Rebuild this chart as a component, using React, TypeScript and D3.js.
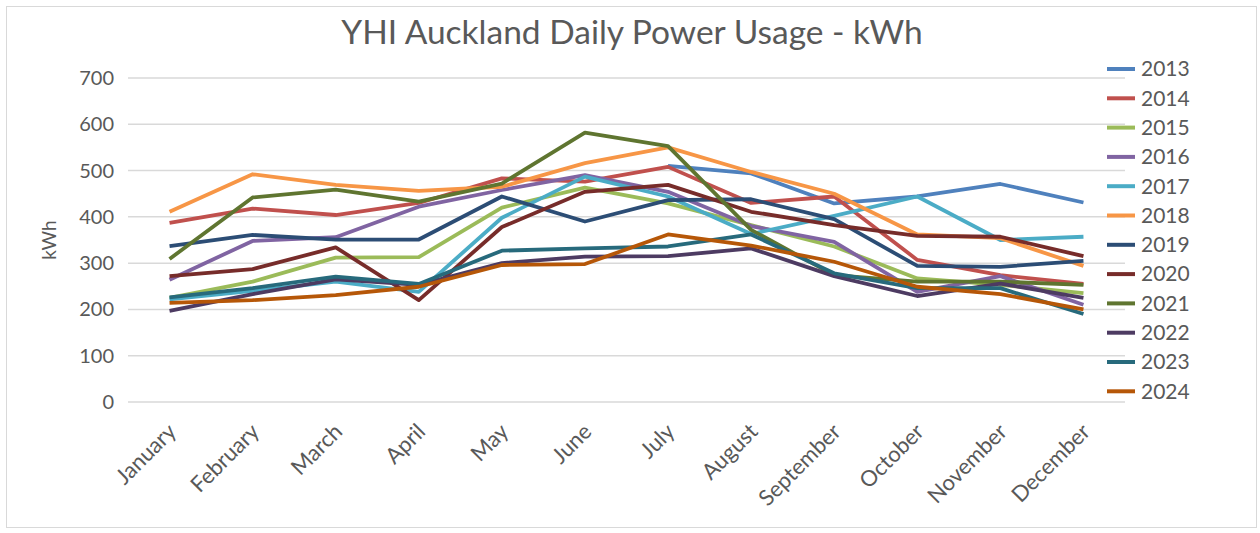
import React from 'react';
import * as d3 from 'd3';

const MONTHS = ['January', 'February', 'March', 'April', 'May', 'June', 'July', 'August', 'September', 'October', 'November', 'December'];
const YEARS = ['2013', '2014', '2015', '2016', '2017', '2018', '2019', '2020', '2021', '2022', '2023', '2024'];
const COLORS = ['#4F81BD', '#C0504D', '#9BBB59', '#8064A2', '#4BACC6', '#F79646', '#2C4D75', '#772C2A', '#5F7530', '#4D3B62', '#276A7C', '#B65708'];
const Y_TICKS = [0, 100, 200, 300, 400, 500, 600, 700];

// daily kWh per month, one array per year (null = no data)
const Y2013 = [null, null, null, null, null, null, 510, 494, 429, 444, 471, 431];
const Y2014 = [387, 418, 404, 430, 483, 476, 508, 430, 444, 307, 274, 255];
const Y2015 = [225, 260, 312, 313, 420, 463, 429, 382, 336, 267, 253, 235];
const Y2016 = [264, 348, 356, 422, 458, 490, 454, 380, 346, 238, 272, 210];
const Y2017 = [222, 240, 260, 238, 398, 487, 444, 363, 402, 444, 350, 357];
const Y2018 = [411, 492, 469, 456, 465, 516, 550, 497, 450, 362, 354, 294];
const Y2019 = [337, 361, 351, 351, 444, 390, 436, 438, 395, 294, 292, 305];
const Y2020 = [272, 287, 334, 220, 378, 454, 469, 411, 382, 359, 357, 315];
const Y2021 = [309, 442, 459, 433, 472, 582, 553, 372, 274, 260, 260, 253];
const Y2022 = [197, 233, 265, 253, 300, 314, 315, 332, 272, 229, 256, 225];
const Y2023 = [226, 246, 271, 255, 327, 332, 336, 362, 278, 246, 246, 190];
const Y2024 = [214, 220, 231, 249, 296, 298, 362, 338, 303, 249, 233, 200];
const SERIES = [Y2013, Y2014, Y2015, Y2016, Y2017, Y2018, Y2019, Y2020, Y2021, Y2022, Y2023, Y2024];

const W = 1260;
const H = 533;
const PLOT = { left: 128, right: 1125, top: 78, bottom: 402 };
const FONT = 'Lato, "Open Sans", sans-serif';
const TXT = '#595959';

export default function App() {
  const x = d3.scalePoint<string>().domain(MONTHS).range([PLOT.left, PLOT.right]).padding(0.5);
  const y = d3.scaleLinear().domain([0, 700]).range([PLOT.bottom, PLOT.top]);

  const line = d3.line<number | null>()
    .defined(d => d != null)
    .x((_, i) => x(MONTHS[i]) as number)
    .y(d => y(d as number));

  return (
    <svg width={W} height={H} style={{ position: 'absolute', left: 0, top: 0, fontFamily: FONT }}>
      <rect x={0} y={0} width={W} height={H} fill="#ffffff" />
      <rect x={6.5} y={6.5} width={W - 10} height={H - 12} fill="none" stroke="#d9d9d9" strokeWidth={1} />

      <text x={632} y={44} textAnchor="middle" fontSize={33.5} fill={TXT}>
        YHI Auckland Daily Power Usage - kWh
      </text>

      {/* grid + y ticks */}
      {Y_TICKS.map(t => (
        <g key={t}>
          <line x1={PLOT.left} x2={PLOT.right} y1={y(t)} y2={y(t)} stroke="#d9d9d9" strokeWidth={1.5} />
          <text x={114} y={y(t)} dy="0.35em" textAnchor="end" fontSize={20} fill={TXT}>{t}</text>
        </g>
      ))}
      <text transform={`translate(56,${(PLOT.top + PLOT.bottom) / 2}) rotate(-90)`} textAnchor="middle" fontSize={19} fill={TXT}>kWh</text>

      {/* x labels */}
      {MONTHS.map(m => {
        const cx = (x(m) as number) + 8;
        const cy = 433;
        return (
          <text key={m} transform={`translate(${cx},${cy}) rotate(-45)`} textAnchor="end" fontSize={22} fill={TXT}>{m}</text>
        );
      })}

      {/* series */}
      {SERIES.map((s, i) => (
        <path key={YEARS[i]} d={line(s) || ''} fill="none" stroke={COLORS[i]} strokeWidth={3.8} strokeLinejoin="round" />
      ))}

      {/* legend */}
      {YEARS.map((yr, i) => {
        const ly = 69 + i * 29.3;
        return (
          <g key={yr}>
            <line x1={1107} x2={1135} y1={ly} y2={ly} stroke={COLORS[i]} strokeWidth={4} />
            <text x={1141} y={ly} dy="0.35em" fontSize={21} fill={TXT}>{yr}</text>
          </g>
        );
      })}
    </svg>
  );
}
